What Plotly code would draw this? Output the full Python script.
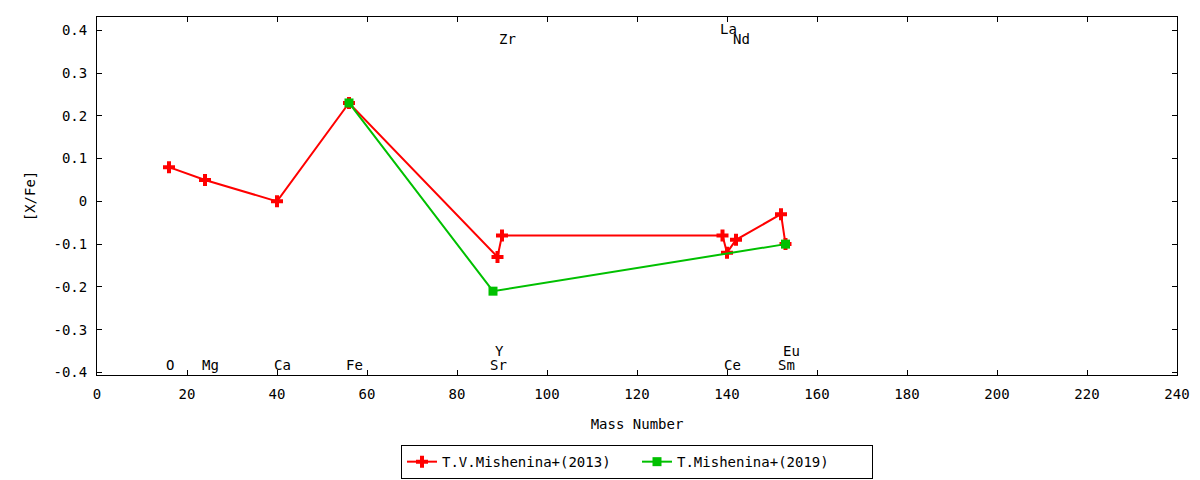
import plotly.graph_objects as go

# abundance ratios [X/Fe] against mass number
mass_2013 = [16, 24, 40, 56, 89, 90, 139, 140, 142, 152, 153]
xfe_2013 = [0.08, 0.05, 0.00, 0.23, -0.13, -0.08, -0.08, -0.12, -0.09, -0.03, -0.10]

mass_2019 = [56, 88, 153]
xfe_2019 = [0.23, -0.21, -0.10]

# element labels drawn inside the frame
elem_names = ["O", "Mg", "Ca", "Fe", "Sr", "Y", "Zr", "La", "Ce", "Nd", "Sm", "Eu"]
elem_mass = [16, 24, 40, 56, 88, 89, 90, 139, 140, 142, 152, 153]
elem_y = [-0.383, -0.383, -0.383, -0.383, -0.383, -0.35, 0.38, 0.404, -0.383, 0.38, -0.383, -0.35]

xtick_vals = list(range(0, 241, 20))
ytick_vals = [-0.4, -0.3, -0.2, -0.1, 0, 0.1, 0.2, 0.3, 0.4]
ytick_text = ["-0.4", "-0.3", "-0.2", "-0.1", "0", "0.1", "0.2", "0.3", "0.4"]

FONT = "DejaVu Sans Mono"
RED = "#ff0000"
GREEN = "#00c000"

fig = go.Figure()

fig.add_trace(
    go.Scatter(
        x=mass_2013,
        y=xfe_2013,
        mode="lines+markers",
        name="T.V.Mishenina+(2013)",
        line=dict(color=RED, width=2),
        marker=dict(symbol="cross", size=10, color=RED),
    )
)

fig.add_trace(
    go.Scatter(
        x=mass_2019,
        y=xfe_2019,
        mode="lines+markers",
        name="T.Mishenina+(2019)",
        line=dict(color=GREEN, width=2),
        marker=dict(symbol="square", size=9, color=GREEN),
    )
)

annotations = []
for name, m, yv in zip(elem_names, elem_mass, elem_y):
    annotations.append(
        dict(
            x=m,
            y=yv,
            xref="x",
            yref="y",
            text=name,
            showarrow=False,
            xanchor="left",
            yanchor="middle",
            xshift=-5,
            font=dict(family=FONT, size=14, color="black"),
        )
    )

axis_common = dict(
    showgrid=False,
    zeroline=False,
    showline=True,
    linecolor="black",
    linewidth=1,
    mirror="ticks",
    ticks="inside",
    ticklen=5,
    tickcolor="black",
    tickfont=dict(family=FONT, size=14, color="black"),
)

# page body has an 8px margin, so the figure is sized to fit inside it
fig.update_layout(
    width=1192,
    height=472,
    margin=dict(l=89, r=23, t=9, b=105, autoexpand=False),
    paper_bgcolor="white",
    plot_bgcolor="white",
    font=dict(family=FONT, size=14, color="black"),
    xaxis=dict(
        range=[0, 240],
        tickvals=xtick_vals,
        title=dict(text="Mass Number", standoff=18, font=dict(family=FONT, size=14)),
        ticklabelstandoff=6,
        **axis_common,
    ),
    yaxis=dict(
        range=[-0.406, 0.431],
        tickvals=ytick_vals,
        ticktext=ytick_text,
        title=dict(text="[X/Fe]", standoff=14, font=dict(family=FONT, size=14)),
        ticklabelstandoff=6,
        **axis_common,
    ),
    legend=dict(
        orientation="h",
        x=0.5,
        xanchor="center",
        yref="container",
        y=0.038,
        yanchor="middle",
        bordercolor="black",
        borderwidth=1,
        bgcolor="white",
        font=dict(family=FONT, size=14, color="black"),
        entrywidth=190,
    ),
    annotations=annotations,
)

fig.write_html("out.html")
